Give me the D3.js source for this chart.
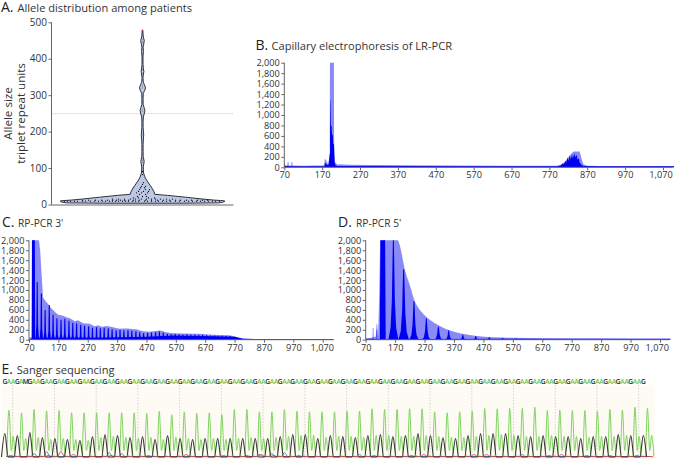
<!DOCTYPE html>
<html><head><meta charset="utf-8">
<script src="https://cdn.jsdelivr.net/npm/d3@7/dist/d3.min.js"></script>
<style>html,body{margin:0;padding:0;background:#fff}svg{display:block;font-family:"Open Sans",sans-serif}
.ax text{fill:#333;font-size:9.2px;font-family:"Open Sans",sans-serif}.ax path,.ax line{stroke:#666;stroke-width:1}</style>
</head><body><svg id="c" width="674" height="459"></svg>
<script>
// ---------- Panel A data
const violinValue=[3.5,4.5,6,8,10,11,12,15,20,25,28,35,45,53,59,65,70,76,86,95,105,112,118,125,132,145,165,180,190,200,212,225,240,250,258,266,275,290,305,313,320,327,335,348,358,365,372,385,405,420,432,440,450,460,470,478];
const violinDensity=[40,76,80,82,82,78,72,60,43,25,12.3,11.5,9.5,7.5,6,4.5,3.4,2.3,1.1,0.8,0.8,1.3,1.7,1.2,0.7,0.6,0.6,0.9,1.2,1,0.6,0.6,0.8,1.8,2.4,1.6,0.6,0.6,0.8,2.2,3,2.2,0.8,0.5,0.9,1.4,0.9,0.5,0.5,0.9,0.6,1.2,1.8,0.8,0.5,0.3];
const dotValue=[9,9,9,9,9,9,9,9,9,9,9,9,9,9,9,9,9,9,9,9,9,9,9,9,9,9,9,9,9,9,9,9,9,9,9,9,9,9,9,9,9,9,12,12,12,12,12,12,12,12,12,12,12,12,12,12,12,12,12,12,12,12,12,12,12,12,15,15,15,15,15,15,15,15,15,15,15,15,18,18,18,18,22,22,22,28,28,32,32,32,36,36,36,41,41,41,46,46,50,50,55,60,82,90,115,120,125,190,200,255,260,320,326,360,370,445,452];
const dotOffset=[-78,-75,-72,-68,-65,-60,-57,-52,-48,-44,-40,-37,-33,-30,-27,-24,-20,-17,-14,-10,-7,-4,2,5,9,13,16,20,24,28,33,37,42,46,50,54,58,62,66,70,73,77,-60,-54,-47,-41,-35,-30,-26,-22,-18,-14,-9,-3,3,9,15,21,27,33,38,44,49,55,60,65,-30,-24,-18,-12,-7,-1,4,9,13,18,24,30,-9,-4,6,12,-5,0,4,-3,3,-6,-1,5,-4,1,6,-3,3,7,-2,2,-1,3,0,1,0,0,0,0,0,0,0,0,0,0,0,0,0,0,0];
const redDotValue=[478];
const thresholdValue=250;
const violinTicks=[0,100,200,300,400,500];

// ---------- Shared electropherogram ticks
const traceTicks=[70,170,270,370,470,570,670,770,870,970,1070];
const rfuTicks=[0,200,400,600,800,1000,1200,1400,1600,1800,2000];

// ---------- Panel B data
const bLightBp=[70,71,72,78,79,81,82,88,89,91,92,120,150,170,176,177,180,184,186,189,190,190.5,201,201.5,204,210,215,240,300,400,500,700,790,800,810,820,830,835,850,855,860,870,900,1000,1100];
const bLightVal=[40,110,40,35,100,100,35,35,100,100,35,30,35,35,40,170,140,80,60,200,260,2000,2000,500,100,50,60,50,45,38,35,30,30,50,90,190,280,300,300,160,60,30,25,25,25];
const bDarkBp=[70,100,170,176,177,181,185,187,189,190,190.8,191,192,193,194,195,196,197,198,199,200,201,202,203,205,210,300,600,790,800,806,808,812,814,818,820,824,826,830,832,836,838,842,844,848,850,856,860,900,1100];
const bDarkVal=[25,20,20,20,90,60,40,60,180,260,260,1280,1280,800,800,780,620,620,620,450,450,440,200,90,40,25,25,22,22,35,80,50,130,80,190,120,230,150,250,170,270,190,240,150,170,90,40,25,20,20];
const bRedBp=[70,71.5];
const bRedVal=[55,55];

// ---------- Panel C data
const cEnvBp=[70,78,80,81,104,108,113,118,126,135,143,152,161,170,178,186,198,209,218,226,237,246,254,265,277,286,294,305,313,322,333,345,356,367,378,392,407,420,435,446,458,470,480,495,514,525,537,554,571,588,605,628,650,672,695,722,751,762,774,785,796,815,842,900,970,1050,1105];
const cEnvVal=[40,50,60,2000,2000,1800,1300,850,780,720,650,600,540,500,490,480,450,430,400,370,390,360,330,325,320,290,270,290,270,260,275,265,250,235,220,225,225,215,210,190,170,165,160,170,185,175,150,135,130,125,125,122,120,110,100,95,90,80,60,40,25,18,15,15,14,16,14];
const cPeakBp=[98,112,125,139,152,165,179,192,206,219,232,246,259,273,286,300,313,326,340,353,367,380,393,407,420,434,447,460,474,487,501,514,527,541,554,568,581,594,608,621,635,648,661,675,688,702,715,728,742,755,769];
const cPeakVal=[1160,930,600,700,500,430,400,420,380,340,330,300,280,270,240,250,230,240,230,210,190,200,190,190,180,170,150,130,140,145,150,165,140,120,110,115,110,105,110,105,105,100,100,90,85,85,80,80,75,75,55];
const cBandBp=[70,79,80,90,91,130,300,470,560,700,770,800,840,1105];
const cBandVal=[15,20,2000,2000,40,40,40,60,85,70,60,20,14,14];

// ---------- Panel D data
const dEnvBp=[70,90,100,104,107,109,112,116,119,180,186,192,198,203,212,220,228,237,245,254,265,277,290,305,319,333,347,362,376,390,418,447,475,503,570,670,770,870,970,1105];
const dEnvVal=[25,40,60,60,320,320,60,900,2000,2000,1900,1740,1550,1400,1230,1100,930,765,680,600,520,450,390,330,285,240,205,175,150,130,100,75,60,47,40,30,25,22,20,20];
const dPeakBp=[128,164,199,234,276,317,352,400,444,490,535,582];
const dPeakVal=[2000,2000,1420,780,430,260,190,100,75,50,35,25];
const dPeakHalf=[9,17,18,16,15,15,13,12,11,11,11,10];
const dSpikeBp=[95,108];
const dSpikeVal=[240,200];
const dBandBp=[70,110,140,300,600,1105];
const dBandVal=[20,15,15,15,18,18];

// ---------- Panel E data
const baseCalls="GAAGAMGAAGAAGAAGAAGAAGAAGAAGAAGAAGAAGAAGAAGAAGAAGAAGAAGAAGAAGAAGAAGAAGAAGAAGAAGAAGAAGAAGAAGAAGAAGAAGAAGAAGAAGAAGAAGAAGAAGAAGAAGAAGAAGAAGAAGAAGAAGAAGAAGAAG";
const tallGreen=[47.3,44.7,48,46.7,47,44.7,44.7,44.7,44.7,44.7,44.7,44,46,42.7,45.7,44,44.7,43,48,48,45.7,45.7,48,46.3,45.7,45.7,45.7,46.3,46.3,48.7,48,48,48.7,48.7,45.7,44.7,45.7,46.3,49,48.7,49,49,50.3,47,47.3,47,47,46.3,48,47.3,50.3,49];
const smallGreen=[21,19,20,18,19,18,17,20,21,20,19,20,18,20,19,18,19,18,19,20,19,20,21,22,22,20,21,21,20,22,22,21,21,22,21,20,20,21,22,23,22,21,21,22,21,21,20,21,21,22,21,22];
const blackPeak=[24,22,25,20,19,18,17,21,23,22,20,21,18,22,19,18,19,19,19,19,19,19,21,23,23,19,22,21,20,22,23,21,22,24,22,20,19,22,24,24,24,22,21,22,21,21,19,21,21,23,22,22];
const bluePeak=[1,1,4,6,1,1,1,1,5,4,1,1,1,1,1,1,1,1,1,2,3,4,5,1,1,1,1,1,3,1,1,1,1,1,1,1,1,1,1,1,1,3,1,1,1,1,1,1,2,1,1,1];
const redPeak=[2,1,1,2,6,3,1,1,2,1,1,2,1,1,3,1,1,2,1,1,3,2,1,2,1,1,1,1,1,2,1,1,2,3,1,1,1,3,3,1,1,1,1,2,3,1,2,1,1,1,2,1];
const gridBase=[1.9,11.9,21.9,31.9,41.9,51.9,61.9,71.9,81.9,91.9,101.9,111.9,121.9,131.9,141.9,151.9];

// ---------- Drawing
const svg=d3.select("#c");
const LIGHT="#8a8af6",DARK="#0000f0";

function title(letter,text,x,y,tx,fs){
  svg.append("text").attr("x",x).attr("y",y).attr("font-size",14).attr("fill","#222").text(letter);
  svg.append("text").attr("x",tx).attr("y",y).attr("font-size",fs).attr("fill","#333").text(text);
}
title("A.","Allele distribution among patients",1,12,17.5,11.1);
title("B.","Capillary electrophoresis of LR-PCR",255.5,49.5,271.5,11.1);
title("C.","RP-PCR 3'",2,227,18,10.2);
title("D.","RP-PCR 5'",338,227,356,10.2);
title("E.","Sanger sequencing",1.5,374,16.7,11.1);

// Panel A
(function(){
  const y=d3.scaleLinear().domain([0,500]).range([204.5,22.3]);
  const d=d3.scaleLinear().domain([-100,100]).range([42.5,242.5]);
  const g=svg.append("g");
  g.append("line").attr("x1",51.5).attr("x2",233).attr("y1",y(thresholdValue)+.3).attr("y2",y(thresholdValue)+.3)
    .attr("stroke","#f7c9ae").attr("stroke-width",1).attr("stroke-dasharray","2,1");
  const area=d3.area().y(p=>y(p[0])).x0(p=>d(-p[1])).x1(p=>d(p[1])).curve(d3.curveLinear);
  g.append("path").attr("d",area(violinValue.map((v,i)=>[v,violinDensity[i]])))
    .attr("fill","#bcc8e4").attr("stroke","#1c1c28").attr("stroke-width",.9);
  g.selectAll("circle.dot").data(dotValue).join("circle").attr("class","dot")
    .attr("cx",(v,i)=>d(dotOffset[i])).attr("cy",v=>y(v)).attr("r",.65).attr("fill",v=>v>100?"#8a8a9a":"#111");
  g.selectAll("circle.red").data(redDotValue).join("circle").attr("class","red")
    .attr("cx",d(0)).attr("cy",v=>y(v)).attr("r",.8).attr("fill","#e8344e");
  const ax=g.append("g").attr("class","ax").attr("transform","translate(51.5,0)")
    .call(d3.axisLeft(y).tickValues(violinTicks).tickSize(3).tickPadding(1.5));
  ax.selectAll("text").style("font-size","10px");
  ax.select("path").attr("d","M0,"+y(500)+"V"+y(0));
  g.append("line").attr("x1",51).attr("x2",233.5).attr("y1",y(0)+.5).attr("y2",y(0)+.5).attr("stroke","#666");
  g.append("text").attr("transform","translate(11.5,113.5) rotate(-90)").attr("text-anchor","middle").attr("font-size",11.6).attr("fill","#333").text("Allele size");
  g.append("text").attr("transform","translate(24.5,113.5) rotate(-90)").attr("text-anchor","middle").attr("font-size",11.6).attr("fill","#333").text("triplet repeat units");
})();

function frame(x0,x1070,xEnd,yTop,yBase){
  const perBp=(x1070-x0)/1000;
  const x=d3.scaleLinear().domain([70,70+(xEnd-x0)/perBp]).range([x0,xEnd]);
  const y=d3.scaleLinear().domain([0,2000]).range([yBase,yTop]);
  const g=svg.append("g");
  return {x,y,g,
    area:(bp,val,color)=>{
      const a=d3.area().x(p=>x(p[0])).y0(yBase).y1(p=>y(p[1]));
      g.append("path").attr("d",a(bp.map((b,i)=>[b,val[i]]))).attr("fill",color);
    },
    axes:()=>{
      const ay=g.append("g").attr("class","ax").attr("transform",`translate(${x0},0)`)
        .call(d3.axisLeft(y).tickValues(rfuTicks).tickFormat(d3.format(",")).tickSize(3).tickPadding(1.5));
      ay.select("path").attr("d",`M0,${yTop}V${yBase}`);
      const ax=g.append("g").attr("class","ax").attr("transform",`translate(0,${yBase})`)
        .call(d3.axisBottom(x).tickValues(traceTicks).tickFormat(d3.format(",")).tickSize(3).tickPadding(1.5));
      ax.select("path").attr("d",`M${x0},0H${xEnd}`);
      ax.selectAll(".tick").filter(v=>v===1070).select("text")
        .attr("text-anchor","end").attr("x",xEnd-x(1070)-.5);
    }
  };
}

// Panel B
(function(){
  const f=frame(284.3,663,672.7,62.7,167.3);
  f.area(bLightBp,bLightVal,LIGHT);
  f.area(bDarkBp,bDarkVal,DARK);
  f.area(bRedBp,bRedVal,"#d01020");
  f.axes();
})();

// Panel C
(function(){
  const f=frame(29,322.7,334,240.3,339.7);
  f.area(cEnvBp,cEnvVal,LIGHT);
  f.area(cBandBp,cBandVal,DARK);
  cPeakBp.forEach((b,i)=>{
    const h=cPeakVal[i];
    f.area([b-6,b-3,b-1.8,b+1.8,b+3,b+6],[0,h*.25,h,h,h*.25,0],DARK);
  });
  f.axes();
})();

// Panel D
(function(){
  const f=frame(365.7,660,669,240.3,339.7);
  f.area(dEnvBp,dEnvVal,LIGHT);
  f.area(dBandBp,dBandVal,DARK);
  dSpikeBp.forEach((b,i)=>f.area([b-1,b-.6,b+.6,b+1],[0,dSpikeVal[i],dSpikeVal[i],0],DARK));
  dPeakBp.forEach((b,i)=>{
    const h=dPeakVal[i],w=dPeakHalf[i];
    if(i===0) f.area([b-10,b-8,b+8,b+10],[0,h,h,0],DARK);
    else f.area([b-w,b-w*.55,b-w*.3,b-w*.1,b+w*.1,b+w*.3,b+w*.55,b+w],[0,h*.12,h*.4,h,h,h*.4,h*.12,0],DARK);
  });
  f.axes();
})();

// Panel E
(function(){
  const top=385,base=458;
  const x=d3.scaleLinear().domain([0,156]).range([4.83,655.8]);
  const y=d3.scaleLinear().domain([0,50]).range([base-.5,base-50.5]);
  const g=svg.append("g");
  g.append("rect").attr("x",2).attr("y",top).attr("width",653).attr("height",base-top+1).attr("fill","#fdfbf3");
  g.selectAll("line.grid").data(gridBase).join("line").attr("class","grid")
    .attr("x1",b=>x(b)).attr("x2",b=>x(b)).attr("y1",top).attr("y2",base)
    .attr("stroke","#c9c9c4").attr("stroke-width",.8).attr("stroke-dasharray","1.5,1.5");
  const line=d3.line().x(p=>x(p[0])).y(p=>y(p[1])).curve(d3.curveMonotoneX);
  function trace(points,color,w){
    g.append("path").attr("d",line(points)).attr("fill","none").attr("stroke",color).attr("stroke-width",w);
  }
  const green=[];
  tallGreen.forEach((h,i)=>{const b=3*i;
    green.push([b+.45,1],[b+1,h],[b+1.55,7],[b+2,smallGreen[i]],[b+2.55,1.5]);});
  trace(green,"#7ed45c",1);
  const blue=[],red=[],black=[];
  bluePeak.forEach((h,i)=>{const b=3*i;blue.push([b+.3,1],[b+1,h],[b+1.8,1]);});
  redPeak.forEach((h,i)=>{const b=3*i;red.push([b+.6,.8],[b+1.4,h],[b+2.4,.8]);});
  trace(blue,"#4d78d0",.9);
  trace(red,"#d2413c",.9);
  blackPeak.forEach((h,i)=>{const b=3*i;black.push([b-.8,.5],[b,h],[b+.8,.5]);});
  trace(black,"#333",1.1);
  g.selectAll("text.call").data(baseCalls.split("")).join("text").attr("class","call")
    .attr("x",(c,i)=>x(i)).attr("y",383.5).attr("text-anchor","middle").attr("font-size",6.6).attr("font-weight",600)
    .attr("fill",c=>c==="A"?"#6cc048":"#222").text(c=>c);
})();
</script></body></html>
